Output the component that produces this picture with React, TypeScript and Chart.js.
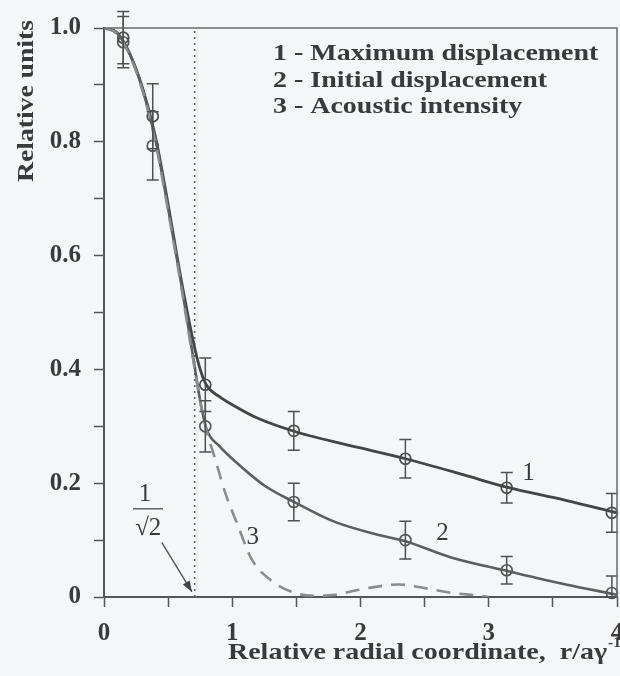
import React, { useEffect, useRef } from 'react';
import { Chart, registerables } from 'chart.js';

Chart.register(...registerables);

// ---------- data ----------
const xTickLabels = ['0', '1', '2', '3', '4'];
const yTickLabels = ['0', '0.2', '0.4', '0.6', '0.8', '1.0'];

const legendLines = ['1 - Maximum displacement', '2 - Initial displacement', '3 - Acoustic intensity'];
const xTitle = 'Relative radial coordinate,  r/a\u03B3';
const xTitleSup = '-1';
const yTitle = 'Relative units';

// measured points with error bars
const pointX = [0.15, 0.38, 0.79, 1.48, 2.35, 3.14, 3.96];
const maxDispY = [0.983, 0.845, 0.373, 0.292, 0.243, 0.192, 0.148];
const maxDispErr = [0.046, 0.057, 0.047, 0.034, 0.034, 0.027, 0.034];
const initDispY = [0.975, 0.793, 0.3, 0.167, 0.1, 0.047, 0.007];
const initDispErr = [0.045, 0.06, 0.045, 0.033, 0.033, 0.024, 0.03];

// theoretical curves
const curveMaxX = [0, 0.1, 0.2, 0.3, 0.4, 0.5, 0.6, 0.7, 0.75, 0.8, 0.9, 1.0, 1.2, 1.5, 2.0, 2.35, 2.8, 3.14, 3.6, 4.0];
const curveMaxY = [1.0, 0.992, 0.955, 0.895, 0.81, 0.69, 0.56, 0.445, 0.4, 0.372, 0.352, 0.338, 0.314, 0.29, 0.262, 0.243, 0.215, 0.193, 0.17, 0.148];

const curveInitX = [0, 0.1, 0.2, 0.3, 0.4, 0.5, 0.6, 0.7, 0.75, 0.8, 0.9, 1.0, 1.25, 1.5, 1.8, 2.16, 2.35, 2.7, 3.14, 3.6, 4.0];
const curveInitY = [1.0, 0.992, 0.955, 0.893, 0.805, 0.683, 0.553, 0.415, 0.345, 0.295, 0.265, 0.243, 0.196, 0.165, 0.132, 0.108, 0.098, 0.07, 0.046, 0.022, 0.004];

const curveAcouX = [0, 0.1, 0.2, 0.3, 0.4, 0.5, 0.6, 0.7, 0.78, 0.87, 0.95, 1.04, 1.15, 1.31, 1.49, 1.65, 1.8, 1.97, 2.22, 2.3, 2.44, 2.69, 2.94, 3.0];
const curveAcouY = [1.0, 0.99, 0.952, 0.89, 0.8, 0.678, 0.548, 0.41, 0.31, 0.24, 0.18, 0.128, 0.067, 0.028, 0.007, 0.002, 0.004, 0.012, 0.021, 0.022, 0.018, 0.008, 0.002, 0.0];

const invSqrt2X = [0.7071, 0.7071];
const invSqrt2Y = [0, 1];

const toXY = (xs: number[], ys: number[]) => xs.map((x, i) => ({ x, y: ys[i] }));

const INK = '#3a3a3a';
const SERIF = '"Liberation Serif", "Times New Roman", serif';

function drawStretched(ctx: CanvasRenderingContext2D, text: string, x: number, y: number, font: string, sx: number) {
  ctx.save();
  ctx.font = font;
  ctx.translate(x, y);
  ctx.scale(sx, 1);
  ctx.fillText(text, 0, 0);
  ctx.restore();
}

const bgPlugin = {
  id: 'bgPlugin',
  beforeDraw(chart: any) {
    const { ctx, width, height } = chart;
    ctx.save();
    ctx.fillStyle = '#f4f6f8';
    ctx.fillRect(0, 0, width, height);
    ctx.restore();
  },
};

const errorSets = [
  { ds: 4, errors: maxDispErr },
  { ds: 5, errors: initDispErr },
];

const errorBarPlugin = {
  id: 'errorBarPlugin',
  afterDatasetsDraw(chart: any) {
    const { ctx } = chart;
    const xs = chart.scales.x;
    const ys = chart.scales.y;
    ctx.save();
    ctx.strokeStyle = '#505050';
    ctx.lineWidth = 1.5;
    errorSets.forEach(({ ds, errors }) => {
      const data = chart.data.datasets[ds].data as { x: number; y: number }[];
      data.forEach((p, i) => {
        const px = xs.getPixelForValue(p.x);
        const top = ys.getPixelForValue(p.y + errors[i]);
        const bot = ys.getPixelForValue(Math.max(0, p.y - errors[i]));
        ctx.beginPath();
        ctx.moveTo(px, top);
        ctx.lineTo(px, bot);
        ctx.moveTo(px - 6, top);
        ctx.lineTo(px + 6, top);
        ctx.moveTo(px - 6, bot);
        ctx.lineTo(px + 6, bot);
        ctx.stroke();
      });
    });
    ctx.restore();
  },
};

const annotationPlugin = {
  id: 'annotationPlugin',
  afterDraw(chart: any) {
    const { ctx, chartArea } = chart;
    const xs = chart.scales.x;
    const ys = chart.scales.y;
    const X = (v: number) => xs.getPixelForValue(v);
    const Y = (v: number) => ys.getPixelForValue(v);
    ctx.save();
    // frame top & right
    ctx.strokeStyle = '#6a6a6a';
    ctx.lineWidth = 1.5;
    ctx.beginPath();
    ctx.moveTo(chartArea.left, chartArea.top);
    ctx.lineTo(chartArea.right, chartArea.top);
    ctx.lineTo(chartArea.right, chartArea.bottom);
    ctx.stroke();

    ctx.fillStyle = INK;
    ctx.textBaseline = 'alphabetic';
    ctx.textAlign = 'left';
    // legend text
    legendLines.forEach((t, i) => {
      drawStretched(ctx, t, 273, 60 + i * 26.5, `bold 24px ${SERIF}`, 1.165);
    });

    // x title
    ctx.font = `bold 24px ${SERIF}`;
    const rawW = ctx.measureText(xTitle).width;
    const sx = 379 / rawW;
    drawStretched(ctx, xTitle, 228, 659, `bold 24px ${SERIF}`, sx);
    drawStretched(ctx, xTitleSup, 228 + rawW * sx + 1, 647, `bold 14px ${SERIF}`, 1.1);

    // y title (rotated)
    ctx.save();
    ctx.translate(33, 182);
    ctx.rotate(-Math.PI / 2);
    ctx.font = `bold 24px ${SERIF}`;
    const yw = ctx.measureText(yTitle).width;
    ctx.scale(162 / yw, 1);
    ctx.fillText(yTitle, 0, 0);
    ctx.restore();

    // curve labels
    ctx.textAlign = 'center';
    ctx.textBaseline = 'middle';
    ctx.font = `25px ${SERIF}`;
    ctx.fillText('1', X(3.31), Y(0.218));
    ctx.fillText('2', X(2.64), Y(0.111));
    ctx.fillText('3', X(1.16), Y(0.105));

    // fraction 1/sqrt2
    ctx.font = `25px ${SERIF}`;
    ctx.fillText('1', X(0.32), Y(0.18));
    ctx.fillText('\u221A2', X(0.345), Y(0.121));
    ctx.strokeStyle = '#555';
    ctx.lineWidth = 1.4;
    ctx.beginPath();
    ctx.moveTo(X(0.226), Y(0.155));
    ctx.lineTo(X(0.46), Y(0.155));
    ctx.stroke();

    // arrow
    const ax0 = X(0.45), ay0 = Y(0.096), ax1 = X(0.686), ay1 = Y(0.009);
    ctx.beginPath();
    ctx.moveTo(ax0, ay0);
    ctx.lineTo(ax1, ay1);
    ctx.stroke();
    const ang = Math.atan2(ay1 - ay0, ax1 - ax0);
    ctx.fillStyle = '#444';
    ctx.beginPath();
    ctx.moveTo(ax1, ay1);
    ctx.lineTo(ax1 - 11 * Math.cos(ang) + 4 * Math.sin(ang), ay1 - 11 * Math.sin(ang) - 4 * Math.cos(ang));
    ctx.lineTo(ax1 - 11 * Math.cos(ang) - 4 * Math.sin(ang), ay1 - 11 * Math.sin(ang) + 4 * Math.cos(ang));
    ctx.closePath();
    ctx.fill();
    ctx.restore();
  },
};

export default function App() {
  const ref = useRef<HTMLCanvasElement | null>(null);

  useEffect(() => {
    if (!ref.current) return;
    const tickFont = { family: SERIF, size: 25, weight: 'bold' as const };
    const chart = new Chart(ref.current, {
      type: 'scatter',
      data: {
        datasets: [
          {
            label: 'Acoustic intensity curve',
            data: toXY(curveAcouX, curveAcouY),
            showLine: true,
            borderColor: '#8c8c8c',
            borderWidth: 2.6,
            borderDash: [14, 9],
            pointRadius: 0,
            cubicInterpolationMode: 'monotone',
          },
          {
            label: 'Initial displacement curve',
            data: toXY(curveInitX, curveInitY),
            showLine: true,
            borderColor: '#5e5e5e',
            borderWidth: 2.6,
            pointRadius: 0,
            cubicInterpolationMode: 'monotone',
          },
          {
            label: 'Maximum displacement curve',
            data: toXY(curveMaxX, curveMaxY),
            showLine: true,
            borderColor: '#444',
            borderWidth: 2.8,
            pointRadius: 0,
            cubicInterpolationMode: 'monotone',
          },
          {
            label: '1/sqrt2',
            data: toXY(invSqrt2X, invSqrt2Y),
            showLine: true,
            borderColor: '#666',
            borderWidth: 1.6,
            borderDash: [2, 4],
            pointRadius: 0,
          },
          {
            label: 'Maximum displacement',
            data: toXY(pointX, maxDispY),
            showLine: false,
            pointRadius: 5.5,
            pointBorderWidth: 1.7,
            pointBorderColor: '#4a4a4a',
            pointBackgroundColor: 'rgba(0,0,0,0)',
            clip: false,
          },
          {
            label: 'Initial displacement',
            data: toXY(pointX, initDispY),
            showLine: false,
            pointRadius: 5.5,
            pointBorderWidth: 1.7,
            pointBorderColor: '#555',
            pointBackgroundColor: 'rgba(0,0,0,0)',
            clip: false,
          },
        ],
      },
      options: {
        animation: false,
        responsive: false,
        devicePixelRatio: 1,
        layout: { padding: { top: 23, right: 23, left: 0, bottom: 0 } },
        plugins: { legend: { display: false }, tooltip: { enabled: false } },
        scales: {
          x: {
            type: 'linear',
            min: 0,
            max: 4,
            afterFit: (s: any) => { s.height = 79; },
            ticks: {
              stepSize: 0.5,
              autoSkip: false,
              maxRotation: 0,
              minRotation: 0,
              padding: 12,
              color: INK,
              font: tickFont,
              callback: (v: any) => {
                const n = Number(v);
                return Math.abs(n - Math.round(n)) < 1e-6 ? xTickLabels[Math.round(n)] : '';
              },
            },
            grid: { drawOnChartArea: false, tickLength: 10, tickColor: '#555', tickWidth: 1.5 },
            border: { color: '#555', width: 2 },
          },
          y: {
            type: 'linear',
            min: 0,
            max: 1,
            afterFit: (s: any) => { s.width = 104; },
            ticks: {
              stepSize: 0.1,
              autoSkip: false,
              padding: 13,
              color: INK,
              font: tickFont,
              callback: (v: any) => {
                const r = Math.round(Number(v) * 10);
                return r % 2 === 0 ? yTickLabels[r / 2] : '';
              },
            },
            grid: { drawOnChartArea: false, tickLength: 10, tickColor: '#555', tickWidth: 1.5 },
            border: { color: '#555', width: 2 },
          },
        },
      },
      plugins: [bgPlugin, errorBarPlugin, annotationPlugin],
    } as any);
    return () => chart.destroy();
  }, []);

  return (
    <div style={{ position: 'fixed', left: 0, top: 0, width: 620, height: 676, overflow: 'hidden', background: '#f4f6f8' }}>
      <canvas ref={ref} width={640} height={676} style={{ width: 640, height: 676, display: 'block' }} />
    </div>
  );
}
